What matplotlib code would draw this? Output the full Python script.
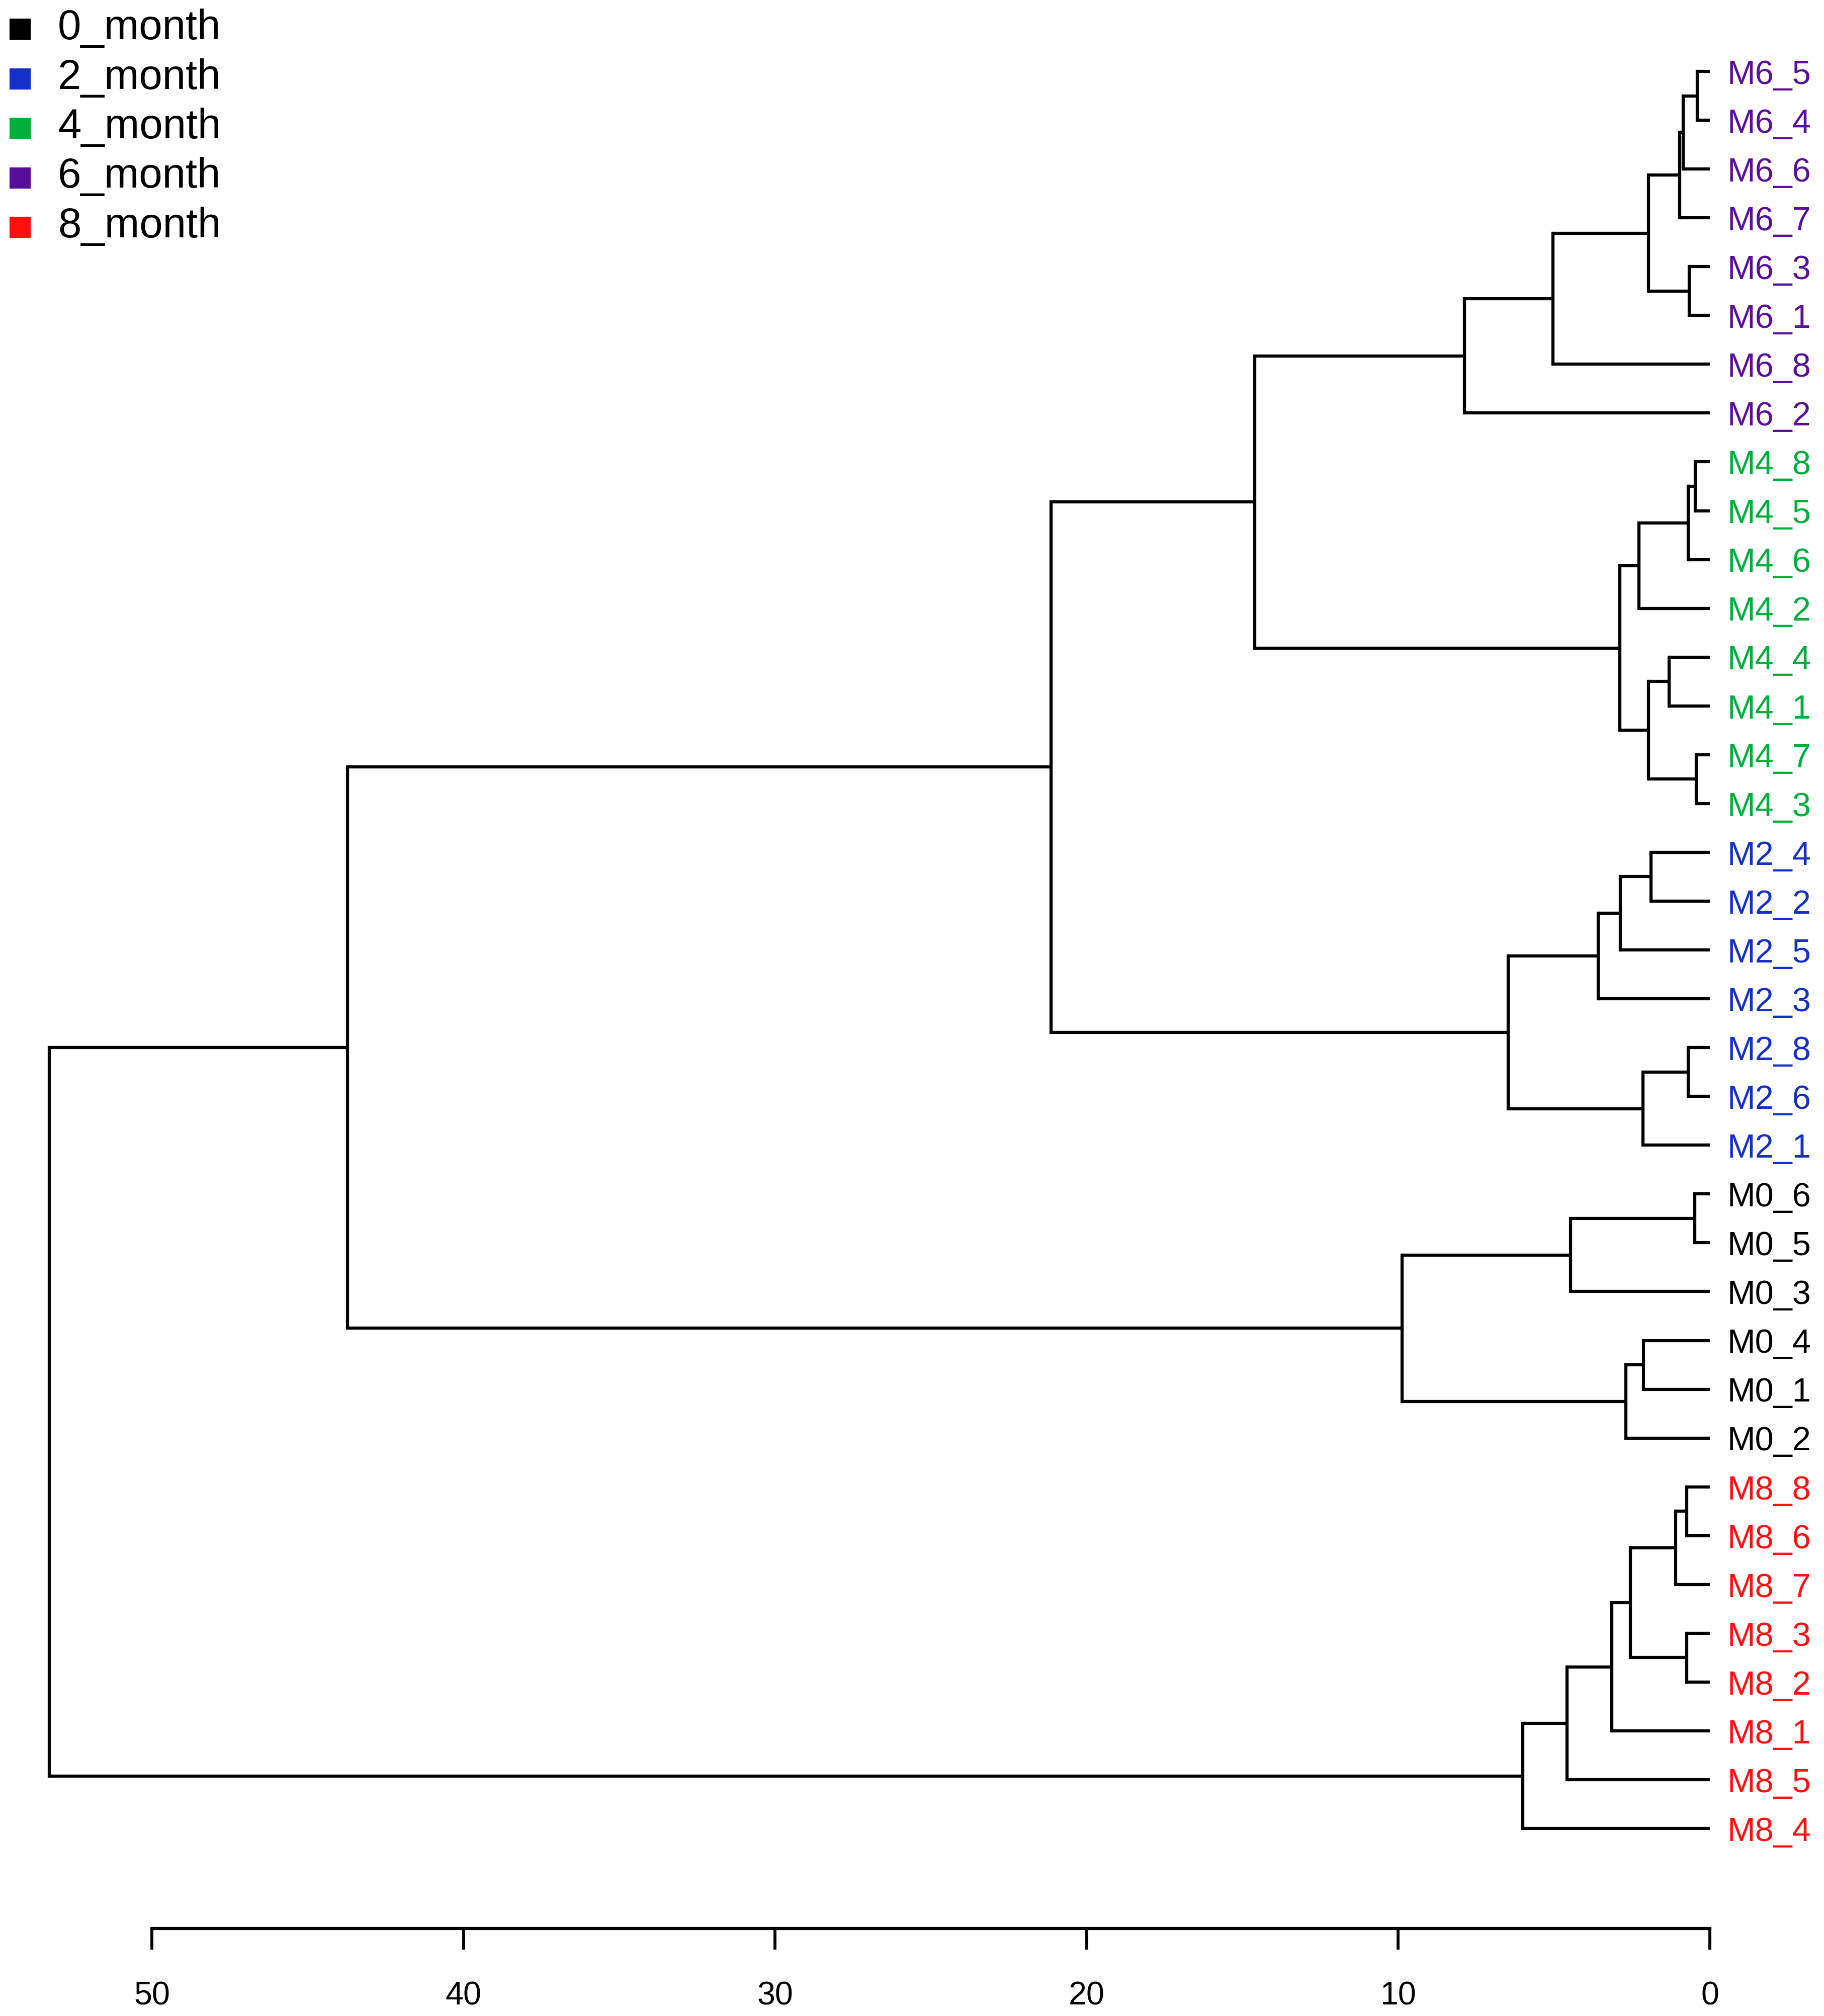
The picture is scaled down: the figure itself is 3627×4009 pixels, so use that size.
import matplotlib
matplotlib.use("Agg")
import matplotlib.pyplot as plt
from matplotlib.lines import Line2D

plt.rcParams['font.family'] = ['Liberation Sans', 'DejaVu Sans']

""" data read off the dendrogram """

# leaves, top to bottom
leaves = ["M6_5", "M6_4", "M6_6", "M6_7", "M6_3", "M6_1", "M6_8", "M6_2",
          "M4_8", "M4_5", "M4_6", "M4_2", "M4_4", "M4_1", "M4_7", "M4_3",
          "M2_4", "M2_2", "M2_5", "M2_3", "M2_8", "M2_6", "M2_1",
          "M0_6", "M0_5", "M0_3", "M0_4", "M0_1", "M0_2",
          "M8_8", "M8_6", "M8_7", "M8_3", "M8_2", "M8_1", "M8_5", "M8_4"]

# merges: (child a, child b, height); ints refer to earlier merges
merges = [
    ("M6_5", "M6_4", 0.40), (0, "M6_6", 0.85), (1, "M6_7", 0.97),
    ("M6_3", "M6_1", 0.66), (2, 3, 1.97), (4, "M6_8", 5.03), (5, "M6_2", 7.87),
    ("M4_8", "M4_5", 0.47), (7, "M4_6", 0.70), (8, "M4_2", 2.27),
    ("M4_4", "M4_1", 1.30), ("M4_7", "M4_3", 0.44), (10, 11, 1.97),
    (9, 12, 2.89), (6, 13, 14.6),
    ("M2_4", "M2_2", 1.89), (15, "M2_5", 2.87), (16, "M2_3", 3.58),
    ("M2_8", "M2_6", 0.70), (18, "M2_1", 2.15), (17, 19, 6.47), (14, 20, 21.14),
    ("M0_6", "M0_5", 0.48), (22, "M0_3", 4.47), ("M0_4", "M0_1", 2.13),
    (24, "M0_2", 2.70), (23, 25, 9.88), (21, 26, 43.72),
    ("M8_8", "M8_6", 0.75), (28, "M8_7", 1.09), ("M8_3", "M8_2", 0.75),
    (29, 30, 2.55), (31, "M8_1", 3.15), (32, "M8_5", 4.59), (33, "M8_4", 6.0),
    (27, 34, 53.3),
]

groups = ["M0", "M2", "M4", "M6", "M8"]
group_labels = ["0_month", "2_month", "4_month", "6_month", "8_month"]
group_colors = ["#000000", "#1530c8", "#00b03a", "#5a0e9c", "#ff1010"]

ticks = [0, 10, 20, 30, 40, 50]

""" figure setup """

W, H = 3627, 4009
fig = plt.figure(figsize=(W / 300, H / 300), dpi=300)

top_px, leaf_step = 142, 97.06
axis_px = 3835
n = len(leaves)
ax = fig.add_axes([302 / W, 1 - axis_px / H, (3400 - 302) / W, (axis_px - top_px) / H])
ax.set_xlim(50, 0)
ax.set_ylim((n - 1) + (axis_px - top_px - (n - 1) * leaf_step) / leaf_step, 0)

""" drawing the tree """

pos = {name: i for i, name in enumerate(leaves)}
hgt = {name: 0.0 for name in leaves}
lw = 1.5
for k, (a, b, h) in enumerate(merges):
    ya, yb = pos[a], pos[b]
    ax.plot([hgt[a], h], [ya, ya], color='k', lw=lw, clip_on=False, solid_capstyle='butt')
    ax.plot([hgt[b], h], [yb, yb], color='k', lw=lw, clip_on=False, solid_capstyle='butt')
    ax.plot([h, h], [ya, yb], color='k', lw=lw, clip_on=False, solid_capstyle='projecting')
    pos[k] = (ya + yb) / 2
    hgt[k] = h

# leaf labels coloured by group
for i, name in enumerate(leaves):
    col = group_colors[groups.index(name[:2])]
    ax.text(-0.56, i + 0.08, name, color=col, fontsize=16, ha='left', va='center')

""" axis """

for s in ['top', 'right', 'left']:
    ax.spines[s].set_visible(False)
ax.spines['bottom'].set_linewidth(1.5)
ax.set_yticks([])
ax.set_xticks(ticks)
ax.set_xticklabels([str(t) for t in ticks])
ax.tick_params(axis='x', length=10, width=1.4, pad=15, labelsize=15.5)

""" legend """

for i, (lab, col) in enumerate(zip(group_labels, group_colors)):
    yy = 1 - (56 + 98.5 * i) / H
    fig.add_artist(Line2D([40 / W], [yy - 0.0005], marker='s', ms=8.9, color=col, linestyle='none'))
    fig.text(115 / W, yy, lab, fontsize=20, ha='left', va='center')

fig.savefig("out.png", dpi=300, facecolor='white')
